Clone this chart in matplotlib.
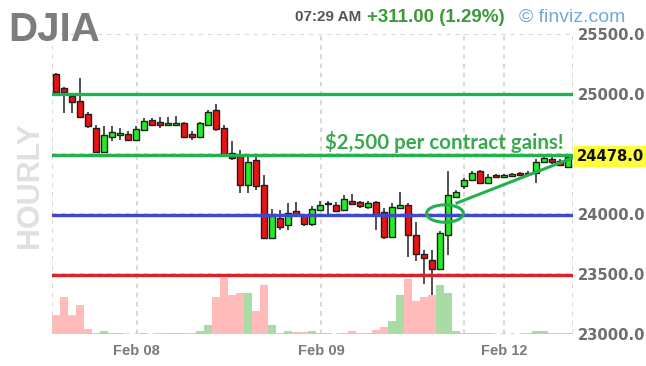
import matplotlib.pyplot as plt
from matplotlib.patches import Ellipse
from matplotlib.transforms import blended_transform_factory

# hourly DJIA futures bars, oldest first
opens = [25165, 25050, 24985, 24940, 24830, 24715, 24515, 24645, 24655, 24670,
         24620, 24700, 24785, 24765, 24745, 24745, 24760, 24670, 24645, 24745,
         24865, 24715, 24505, 24480, 24240, 24450, 24240, 23800, 23965, 23905,
         24025, 23990, 23920, 24035, 24080, 24075, 24035, 24110, 24100, 24060,
         24100, 24020, 23810, 24050, 24075, 23825, 23670, 23620, 23545, 23825,
         24145, 24230, 24285, 24355, 24260, 24325, 24310, 24318, 24340, 24345,
         24340, 24435, 24460, 24440, 24395]
highs = [25175, 25060, 25008, 25130, 24850, 24740, 24730, 24730, 24715, 24690,
         24730, 24800, 24800, 24810, 24810, 24815, 24770, 24690, 24770, 24870,
         24920, 24740, 24605, 24535, 24485, 24475, 24325, 24040, 24030, 24090,
         24100, 24000, 24070, 24110, 24110, 24100, 24160, 24170, 24110, 24110,
         24110, 24050, 24090, 24185, 24090, 23935, 23700, 23700, 23860, 24355,
         24200, 24300, 24360, 24370, 24330, 24335, 24335, 24340, 24350, 24355,
         24460, 24500, 24475, 24455, 24480]
lows = [25010, 24840, 24840, 24800, 24720, 24505, 24505, 24605, 24620, 24610,
        24605, 24690, 24730, 24720, 24730, 24735, 24635, 24620, 24635, 24740,
        24690, 24480, 24450, 24175, 24175, 24200, 23790, 23790, 23865, 23865,
        23980, 23900, 23900, 24025, 23990, 24020, 24025, 24075, 24050, 24045,
        23870, 23790, 23800, 24040, 23645, 23605, 23420, 23325, 23530, 23660,
        24130, 24210, 24275, 24250, 24250, 24300, 24300, 24310, 24320, 24325,
        24260, 24430, 24420, 24400, 24390]
closes = [25020, 25015, 24930, 24810, 24730, 24515, 24660, 24685, 24675, 24620,
          24705, 24775, 24745, 24745, 24760, 24755, 24645, 24645, 24755, 24850,
          24705, 24495, 24465, 24240, 24435, 24230, 23800, 23980, 23895, 24005,
          23995, 23920, 24040, 24075, 24090, 24025, 24125, 24080, 24065, 24090,
          23990, 23810, 24060, 24075, 23825, 23670, 23630, 23540, 23840, 24160,
          24185, 24285, 24340, 24260, 24310, 24310, 24322, 24330, 24325, 24330,
          24435, 24465, 24430, 24410, 24478]
# volume, thousands of contracts
volume = [19.4, 36.7, 19.4, 29.4, 5, 1, 2.7, 1, 1, 0.5,
          0.5, 1, 0.3, 1, 1, 1, 1, 1, 2.7, 8.7,
          36.7, 56, 38.7, 40.7, 40.7, 22.7, 48.7, 8.7, 1, 2.7,
          2, 2, 2.7, 1, 1, 0.3, 1, 2.7, 1, 1,
          4.3, 6.7, 12.7, 38.7, 55.3, 32.7, 36.7, 38.7, 48.7, 40.7,
          2.7, 1, 1, 1, 1, 0.3, 0.3, 0.3, 0.3, 1,
          2.7, 2.7, 1, 1, 1]

date_ticks = [10.1, 33.1, 56.0]
date_labels = ["Feb 08", "Feb 09", "Feb 12"]
grid_x = [-0.5, 10.1, 33.1, 51.0, 56.0, 64.6]
price_ticks = [23000, 23500, 24000, 25000, 25500]
grid_y = [23000, 23500, 24000, 24500, 25000, 25500]
last_price = 24478

# levels drawn by hand on the chart
level_top = 25000
level_target = 24490
level_entry = 23990
level_stop = 23490

fig = plt.figure(figsize=(6.46, 3.66), dpi=100)
ax = fig.add_axes([0.0805, 0.0874, 0.8065, 0.8197])
ax_vol = ax.twinx()
ax.set_zorder(ax_vol.get_zorder() + 1)
ax.patch.set_visible(False)

x = list(range(len(opens)))
up = [c >= o for o, c in zip(opens, closes)]

# volume in the background
vol_colors = ["#a8dca4" if u else "#ffbaba" for u in up]
ax_vol.bar(x, volume, width=1.0, color=vol_colors, linewidth=0)
ax_vol.set_ylim(0, 300)
ax_vol.set_yticks([])
for s in ax_vol.spines.values():
    s.set_visible(False)

# dashed grid, also used as the frame
for gx in grid_x:
    ax.axvline(gx, color="#cdcdcd", lw=1.1, ls=(0, (3, 3)), zorder=0)
for gy in grid_y:
    ax.axhline(gy, color="#cdcdcd", lw=1.1, ls=(0, (3, 3)), zorder=0)

# candles
ax.vlines(x, lows, highs, color="#333333", lw=1.2, zorder=2)
bottoms = [min(o, c) for o, c in zip(opens, closes)]
heights = [max(abs(c - o), 4) for o, c in zip(opens, closes)]
body_colors = ["#22ee22" if u else "#ee1111" for u in up]
ax.bar(x, heights, bottom=bottoms, width=0.74, color=body_colors,
       edgecolor="#1e1e1e", linewidth=1.0, zorder=3)

ax.set_xlim(-0.5, 64.6)
ax.set_ylim(23000, 25500)
for s in ax.spines.values():
    s.set_visible(False)

ax.yaxis.tick_right()
ax.set_yticks(price_ticks, [f"{v:.1f}" for v in price_ticks])
ax.tick_params(axis="y", length=0, pad=3.5, labelsize=10.6, labelcolor="#6e6e6e")
ax.set_xticks(date_ticks, date_labels)
ax.tick_params(axis="x", length=0, pad=7, labelsize=10.5, labelcolor="#7a7a7a")
for lbl in ax.get_yticklabels():
    lbl.set_fontfamily("DejaVu Sans")
    lbl.set_fontweight("bold")
for lbl in ax.get_xticklabels():
    lbl.set_fontfamily("Liberation Sans")
    lbl.set_fontweight("bold")

# last price tag
trans = blended_transform_factory(ax.transAxes, ax.transData)
ax.text(1.008, last_price, f"{last_price:.1f}", transform=trans, va="center",
        ha="left", fontsize=10.6, fontweight="bold", family="DejaVu Sans",
        color="#111111", clip_on=False,
        bbox=dict(boxstyle="square,pad=0.2", fc="#ffff3c", ec="none"))

# hand drawn levels and notes
ax.axhline(level_top, color="#22b14c", lw=2.4, zorder=5)
ax.axhline(level_target, color="#22b14c", lw=2.4, zorder=5)
ax.axhline(level_entry, color="#3f48cc", lw=2.4, zorder=5)
ax.axhline(level_stop, color="#d8232a", lw=2.4, zorder=5)
ax.add_patch(Ellipse((48.6, 24004), 4.6, 145, fill=False, ec="#22b14c",
                     lw=2.2, zorder=6))
ax.plot([50.1, 64.5], [24092, 24467], color="#22b14c", lw=2.2, zorder=6)
ax.text(33.6, 24545, "$2,500 per contract gains!", color="#3aa84e",
        fontsize=14.8, fontweight="bold", family="Lato", va="baseline",
        zorder=7)

# header
fig.text(0.012, 0.888, "DJIA", fontsize=29, fontweight="bold",
         family="Liberation Sans", color="#7d7d7d", va="baseline")
fig.text(0.457, 0.953, "07:29 AM", fontsize=11, fontweight="bold",
         family="Liberation Sans", color="#555555", va="center")
fig.text(0.568, 0.953, "+311.00 (1.29%)", fontsize=13.5, fontweight="bold",
         family="Liberation Sans", color="#3a9a3a", va="center")
fig.text(0.803, 0.953, "\u00a9 finviz.com", fontsize=14, family="Liberation Sans",
         color="#74a9dc", va="center")
fig.text(0.046, 0.495, "HOURLY", fontsize=22, fontweight="bold", rotation=90,
         family="Liberation Sans", color="#e0e0e0", ha="center", va="center")

fig.savefig("out.png", dpi=100)
